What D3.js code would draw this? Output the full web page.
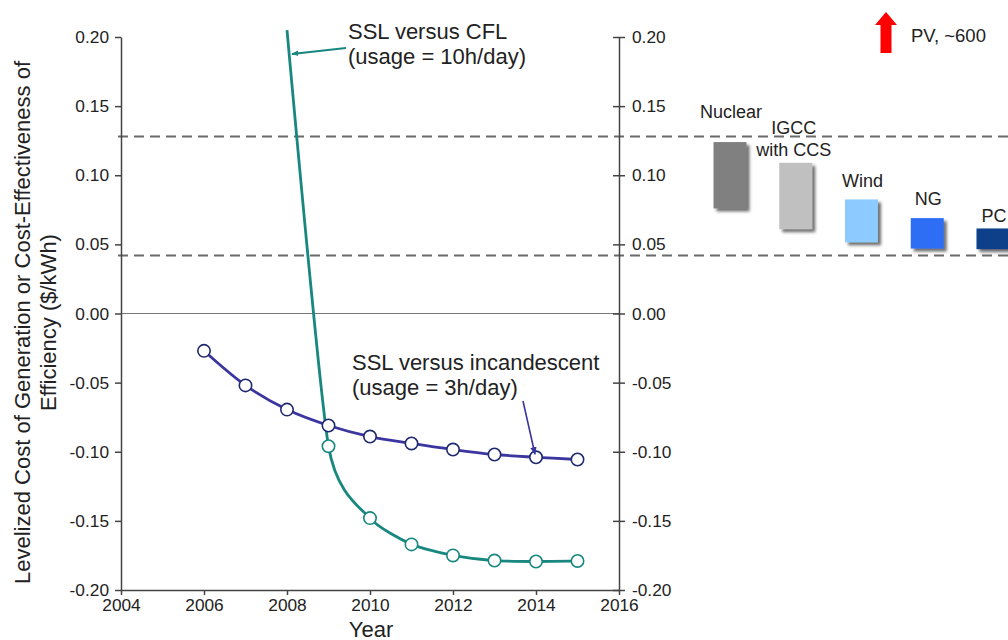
<!DOCTYPE html>
<html><head><meta charset="utf-8">
<script src="https://cdn.jsdelivr.net/npm/d3@7"></script>
<style>
html,body{margin:0;padding:0;background:#fff;}
svg{display:block;font-family:"Liberation Sans",Arial,sans-serif;}
</style></head>
<body>
<svg id="chart" width="1008" height="640"></svg>
<script>
// ---- data ----
const years = [2006, 2007, 2008, 2009, 2010, 2011, 2012, 2013, 2014, 2015];
const incandescent = [-0.027, -0.052, -0.0695, -0.081, -0.089, -0.094, -0.0984, -0.102, -0.104, -0.1056];
const cflYears = [2008, 2009, 2010, 2011, 2012, 2013, 2014, 2015];
const cfl = [0.205, -0.096, -0.148, -0.167, -0.175, -0.1787, -0.1794, -0.179];
const cflMarkerFrom = 2009;
const xTicks = [2004, 2006, 2008, 2010, 2012, 2014, 2016];
const yTicks = [-0.20, -0.15, -0.10, -0.05, 0.00, 0.05, 0.10, 0.15, 0.20];
const refLines = [0.128, 0.042];
const techs = ["Nuclear", "IGCC", "Wind", "NG", "PC"];
const techLabels = [["Nuclear"], ["IGCC", "with CCS"], ["Wind"], ["NG"], ["PC"]];
const techLow = [0.076, 0.061, 0.0515, 0.047, 0.0465];
const techHigh = [0.124, 0.109, 0.0825, 0.069, 0.0615];
const pvLabel = "PV, ~600";

// ---- layout ----
const svg = d3.select("#chart");
const x = d3.scaleLinear().domain([2004, 2016]).range([121, 619]);
const y = d3.scaleLinear().domain([-0.2, 0.2]).range([590, 37]);
const xb = d3.scalePoint().domain(techs).range([730, 993]);
const barW = 33;
const techColors = ["#808080", "#c0c0c0", "#8ccaff", "#2d6ef5", "#0b3f88"];
const labelLift = [24, 7, 12, 13, 6];
const fmt = d => d3.format(".2f")(d).replace("\u2212", "-");
const tealC = "#17877f", purpC = "#3b35a0", navyC = "#1f2a6e";

const defs = svg.append("defs");
const f = defs.append("filter").attr("id", "shadow").attr("x", "-30%").attr("y", "-30%").attr("width", "160%").attr("height", "160%");
f.append("feDropShadow").attr("dx", 3).attr("dy", 3).attr("stdDeviation", 1.6).attr("flood-color", "#333").attr("flood-opacity", 0.7);
const mk = defs.append("marker").attr("id", "ah").attr("viewBox", "0 0 10 10").attr("refX", 9).attr("refY", 5)
  .attr("markerWidth", 7).attr("markerHeight", 7).attr("orient", "auto-start-reverse").attr("markerUnits", "userSpaceOnUse");
mk.append("path").attr("d", "M0,1 L10,5 L0,9 Z").attr("fill", tealC);
const mk2 = defs.append("marker").attr("id", "ah2").attr("viewBox", "0 0 10 10").attr("refX", 9).attr("refY", 5)
  .attr("markerWidth", 8).attr("markerHeight", 8).attr("orient", "auto").attr("markerUnits", "userSpaceOnUse");
mk2.append("path").attr("d", "M0,1 L10,5 L0,9 Z").attr("fill", purpC);

// zero line
svg.append("line").attr("x1", x(2004)).attr("x2", x(2016)).attr("y1", y(0)).attr("y2", y(0))
  .attr("stroke", "#777").attr("stroke-width", 1.2);

// dashed reference lines
svg.selectAll(".ref").data(refLines).join("line")
  .attr("x1", 118).attr("x2", 1008).attr("y1", d => y(d)).attr("y2", d => y(d))
  .attr("stroke", "#6a6a6a").attr("stroke-width", 2).attr("stroke-dasharray", "10,6");

// axes
const axisStyle = g => {
  g.selectAll("path.domain").attr("stroke", "#444").attr("stroke-width", 1.5);
  g.selectAll(".tick line").attr("stroke", "#444").attr("stroke-width", 1.5);
  g.selectAll("text").attr("font-size", 17.3).attr("fill", "#222").attr("font-family", "Liberation Sans, Arial, sans-serif");
};
svg.append("g").attr("transform", `translate(${x(2004)},0)`)
  .call(d3.axisLeft(y).tickValues(yTicks).tickFormat(fmt).tickSize(6).tickSizeOuter(0).tickPadding(6))
  .call(axisStyle);
const ra = svg.append("g").attr("transform", `translate(${x(2016)},0)`)
  .call(d3.axisRight(y).tickValues(yTicks).tickFormat(fmt).tickSize(6).tickSizeOuter(0).tickPadding(7))
  .call(axisStyle);
ra.selectAll(".tick line").attr("x1", -6);
svg.append("g").attr("transform", `translate(0,${y(-0.2)})`)
  .call(d3.axisBottom(x).tickValues(xTicks).tickFormat(d3.format("d")).tickSize(5).tickSizeOuter(0).tickPadding(4))
  .call(axisStyle);

// axis titles
svg.append("text").attr("x", x(2010) + 1).attr("y", 637).attr("text-anchor", "middle")
  .attr("font-size", 22).attr("fill", "#222").text("Year");
const yt = svg.append("text").attr("transform", `translate(30,${y(0) + 9}) rotate(-90)`).attr("text-anchor", "middle")
  .attr("font-size", 22).attr("fill", "#222");
yt.append("tspan").attr("x", 0).attr("dy", 0).text("Levelized Cost of Generation or Cost-Effectiveness of");
yt.append("tspan").attr("x", 0).attr("dy", 26).text("Efficiency ($/kWh)");

// lines
const incData = years.map((yr, i) => ({yr, v: incandescent[i]}));
const cflData = cflYears.map((yr, i) => ({yr, v: cfl[i]}));
const lineInc = d3.line().x(d => x(d.yr)).y(d => y(d.v)).curve(d3.curveCatmullRom.alpha(0.5));
const lineCfl = d3.line().x(d => x(d.yr)).y(d => y(d.v)).curve(d3.curveCardinal.tension(0.4));
svg.append("path").datum(cflData).attr("d", lineCfl).attr("fill", "none").attr("stroke", tealC).attr("stroke-width", 2.8);
svg.append("path").datum(incData).attr("d", lineInc).attr("fill", "none").attr("stroke", purpC).attr("stroke-width", 2.8);

svg.selectAll(".mc").data(cflData.filter(d => d.yr >= cflMarkerFrom)).join("circle")
  .attr("cx", d => x(d.yr)).attr("cy", d => y(d.v)).attr("r", 6.2)
  .attr("fill", "#fff").attr("stroke", tealC).attr("stroke-width", 1.6);
svg.selectAll(".mi").data(incData).join("circle")
  .attr("cx", d => x(d.yr)).attr("cy", d => y(d.v)).attr("r", 6.2)
  .attr("fill", "#fff").attr("stroke", navyC).attr("stroke-width", 1.6);

// annotations
const a1 = svg.append("text").attr("x", 348).attr("y", 39).attr("font-size", 22).attr("fill", "#222");
a1.append("tspan").attr("x", 348).text("SSL versus CFL");
a1.append("tspan").attr("x", 348).attr("dy", 25).text("(usage = 10h/day)");
svg.append("line").attr("x1", 346).attr("y1", 48).attr("x2", 292).attr("y2", 54)
  .attr("stroke", tealC).attr("stroke-width", 2).attr("marker-end", "url(#ah)");

const a2 = svg.append("text").attr("x", 352).attr("y", 370).attr("font-size", 22).attr("fill", "#222");
a2.append("tspan").attr("x", 352).text("SSL versus incandescent");
a2.append("tspan").attr("x", 352).attr("dy", 25).text("(usage = 3h/day)");
svg.append("line").attr("x1", 523).attr("y1", 401).attr("x2", x(2014) - 1).attr("y2", y(incandescent[8]) - 3)
  .attr("stroke", purpC).attr("stroke-width", 1.6).attr("marker-end", "url(#ah2)");

// technology bars
const techData = techs.map((t, i) => ({t, lo: techLow[i], hi: techHigh[i], c: techColors[i], lab: techLabels[i], lift: labelLift[i]}));
svg.selectAll(".bar").data(techData).join("rect")
  .attr("x", d => xb(d.t) - barW / 2).attr("width", barW)
  .attr("y", d => y(d.hi)).attr("height", d => y(d.lo) - y(d.hi))
  .attr("fill", d => d.c).attr("filter", "url(#shadow)");
techData.forEach(d => {
  const n = d.lab.length;
  d.lab.forEach((s, j) => {
    svg.append("text").attr("x", xb(d.t) + (n > 1 ? -2 : 1)).attr("y", y(d.hi) - d.lift - (n - 1 - j) * 22)
      .attr("text-anchor", "middle").attr("font-size", 18).attr("fill", "#222").text(s);
  });
});

// PV arrow
const ax = 886;
svg.append("path").attr("d", `M${ax},12 L${ax + 11},25 L${ax + 5.5},25 L${ax + 5.5},53 L${ax - 5.5},53 L${ax - 5.5},25 L${ax - 11},25 Z`)
  .attr("fill", "#f00");
svg.append("text").attr("x", 911).attr("y", 42).attr("font-size", 18.5).attr("fill", "#222").text(pvLabel);
</script>
</body></html>
